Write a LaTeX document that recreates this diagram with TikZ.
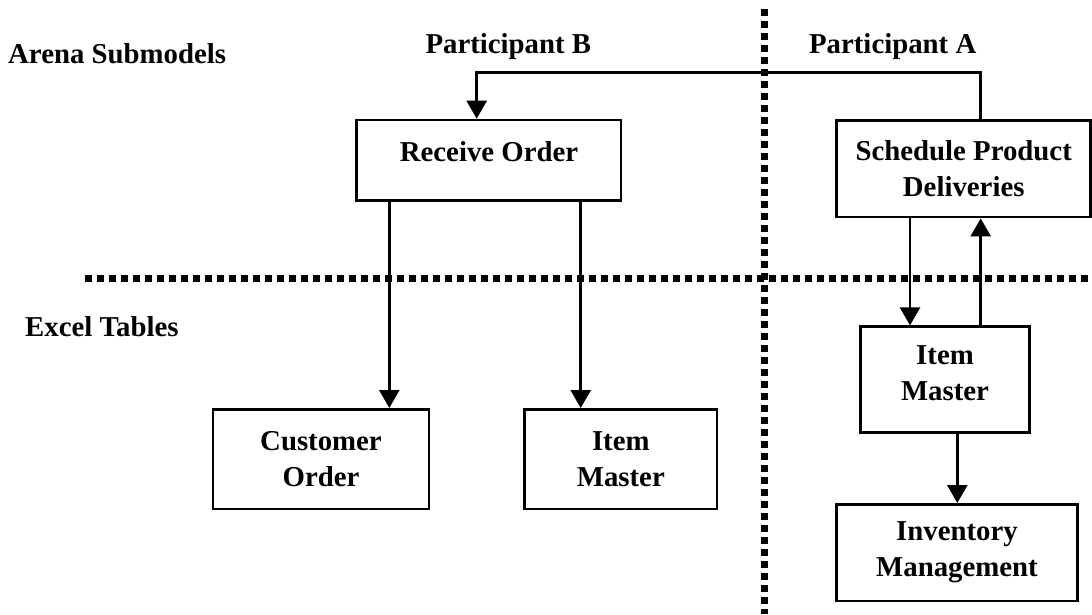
\documentclass[tikz,border=0pt]{standalone}
\usepackage{fontspec}
\setmainfont{Liberation Serif}
\usetikzlibrary{arrows.meta}
\begin{document}
\begin{tikzpicture}[x=1pt,y=-1pt,
  lbl/.style={font=\fontsize{28.8}{36}\selectfont\bfseries, inner sep=0pt},
  box/.style={draw, line width=2.7pt, inner sep=0pt, align=center, font=\fontsize{28.8}{36}\selectfont\bfseries},
  txt/.style={inner sep=0pt, align=center, font=\fontsize{28.8}{36}\selectfont\bfseries},
  arr/.style={line width=2.7pt, -{Triangle[width=20pt,length=18pt]}},
  sep/.style={line width=7pt, dash pattern=on 7pt off 5pt}]
\useasboundingbox (0,0) rectangle (1092,614);

% separators
\draw[sep] (764,9) -- (764,614);
\draw[sep] (85,278.5) -- (1092,278.5);

% labels
\node[lbl, anchor=base west] (arena) at (8,63) {Arena Submodels};
\node[lbl, anchor=base] (pb) at (508.3,53) {Participant B};
\node[lbl, anchor=base] (pa) at (892.7,53) {Participant A};
\node[lbl, anchor=base west] (excel) at (25,336) {Excel Tables};

% boxes
\node[box, minimum width=264.3pt, minimum height=80.7pt] (ro) at (488.9,160.4) {};
\node[txt, anchor=base] (rot) at (489,161) {Receive Order};
\node[box, minimum width=254pt, minimum height=96.3pt] (sch) at (963.7,168.9) {Schedule Product\\Deliveries};
\node[box, minimum width=168.6pt, minimum height=106pt] (imr) at (945,379.7) {};
\node[txt] (imrt) at (945,373.3) {Item\\Master};
\node[box, minimum width=240.6pt, minimum height=96.7pt] (inv) at (957,552.7) {Inventory\\Management};
\node[box, minimum width=216pt, minimum height=99.7pt] (co) at (321,459.2) {Customer\\Order};
\node[box, minimum width=192.3pt, minimum height=99.7pt] (imm) at (620.8,459.2) {Item\\Master};

% connectors
\coordinate (t1) at (980.7,72.7);
\coordinate (t2) at (476.7,72.7);
\coordinate (a1) at (389.3,0);
\coordinate (a2) at (580.7,0);
\coordinate (a3) at (910,0);
\coordinate (a4) at (980.7,0);
\coordinate (a5) at (957.3,0);
\draw[arr] (sch.north -| t1) -- (t1) -- (t2) -- (ro.north -| t2);
\draw[arr] (ro.south -| a1) -- (co.north -| a1);
\draw[arr] (ro.south -| a2) -- (imm.north -| a2);
\draw[arr] (sch.south -| a3) -- (imr.north -| a3);
\draw[arr] (imr.north -| a4) -- (sch.south -| a4);
\draw[arr] (imr.south -| a5) -- (inv.north -| a5);
\end{tikzpicture}
\end{document}
